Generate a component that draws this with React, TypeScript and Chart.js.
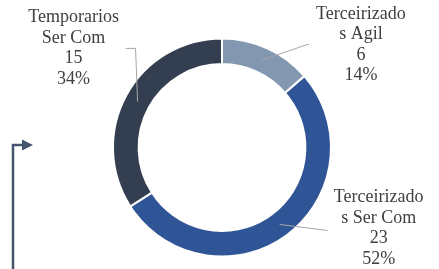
import React, { useEffect, useRef } from "react";
import { Chart, registerables } from "chart.js";

Chart.register(...registerables);

const categories = ["Terceirizados Agil", "Terceirizados Ser Com", "Temporarios Ser Com"];
const labelLines = [["Terceirizado", "s Agil"], ["Terceirizado", "s Ser Com"], ["Temporarios", "Ser Com"]];
const values = [6, 23, 15];
const percentLabels = ["14%", "52%", "34%"];
const colors = ["#8497b0", "#2f5597", "#333f50"];

const FONT = "18px 'Liberation Serif', 'Times New Roman', serif";

// label placement relative to each slice's centre point (style only)
const labelOffsets = [
  { text: [99, -15], line: [[47, -16]] },
  { text: [99, 4], line: [[48, 6]] },
  { text: [-64, -53], line: [[-2, -53], [-12, -53]] },
];

const labelPlugin = {
  id: "sliceLabels",
  afterDatasetsDraw(chart: any) {
    const ctx = chart.ctx;
    const meta = chart.getDatasetMeta(0);
    ctx.save();
    meta.data.forEach((arc: any, i: number) => {
      const c = arc.getCenterPoint();
      const off = labelOffsets[i];
      ctx.strokeStyle = "#a6a6a6";
      ctx.lineWidth = 1;
      ctx.beginPath();
      ctx.moveTo(c.x, c.y);
      off.line.forEach((p) => ctx.lineTo(c.x + p[0], c.y + p[1]));
      ctx.stroke();
      const lines = [...labelLines[i], String(values[i]), percentLabels[i]];
      const lh = 20.5;
      ctx.fillStyle = "#404040";
      ctx.font = FONT;
      ctx.textAlign = "center";
      ctx.textBaseline = "middle";
      const cx = c.x + off.text[0];
      const cy = c.y + off.text[1];
      lines.forEach((t, k) => {
        ctx.fillText(t, cx, cy + (k - (lines.length - 1) / 2) * lh);
      });
    });
    // decorative connector arrow at left edge
    const h = chart.height;
    ctx.strokeStyle = "#44546a";
    ctx.fillStyle = "#44546a";
    ctx.lineWidth = 2.5;
    ctx.beginPath();
    ctx.moveTo(13, h);
    ctx.lineTo(13, 145);
    ctx.lineTo(24, 145);
    ctx.stroke();
    ctx.beginPath();
    ctx.moveTo(22, 139.5);
    ctx.lineTo(33, 145);
    ctx.lineTo(22, 150.5);
    ctx.closePath();
    ctx.fill();
    ctx.restore();
  },
};

export default function App() {
  const ref = useRef<HTMLCanvasElement>(null);
  useEffect(() => {
    document.body.style.margin = "0";
    const chart = new Chart(ref.current!, {
      type: "doughnut",
      data: {
        labels: categories,
        datasets: [
          {
            data: values,
            backgroundColor: colors,
            borderColor: "#ffffff",
            borderWidth: 2,
          },
        ],
      },
      options: {
        animation: false,
        responsive: false,
        cutout: "76.5%",
        layout: { padding: { top: 37, bottom: 11, left: 112, right: 107 } },
        plugins: { legend: { display: false }, tooltip: { enabled: false } },
      },
      plugins: [labelPlugin],
    });
    return () => chart.destroy();
  }, []);
  return <canvas ref={ref} width={439} height={269} style={{ display: "block" }} />;
}
